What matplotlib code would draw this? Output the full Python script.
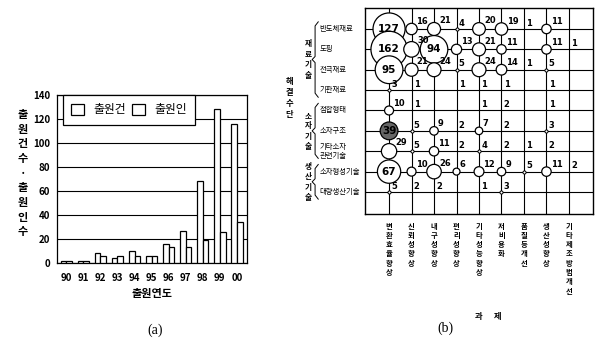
import numpy as np
import matplotlib.pyplot as plt

plt.rcParams['font.family'] = ['Noto Sans CJK KR', 'DejaVu Sans']

# (a) yearly counts
years = ['90', '91', '92', '93', '94', '95', '96', '97', '98', '99', '00']
applications = [2, 2, 8, 4, 10, 6, 16, 27, 68, 128, 116]
applicants = [2, 2, 6, 6, 6, 6, 13, 13, 19, 26, 34]

# (b) solution x problem matrix
row_names = ['반도체재료', '도핑', '전극재료', '기판재료', '접합형태', '소자구조',
             '기타소자\n관련기술', '소자형성기술', '대량생산기술']
col_names = ['변환효율향상', '신뢰성향상', '내구성향상', '편리성향상', '기타성능향상',
             '저비용화', '품질등개선', '생산성향상', '기타제조방법개선']
groups = ['재료기술', '소자기술', '생산기술']
group_rows = [(0, 3), (4, 6), (7, 8)]
counts = np.array([
    [127, 16, 21, 4, 20, 19, 1, 11, 0],
    [162, 30, 94, 13, 21, 11, 0, 11, 1],
    [95, 21, 24, 5, 24, 14, 1, 5, 0],
    [3, 1, 0, 1, 1, 1, 0, 1, 0],
    [10, 1, 0, 0, 1, 2, 0, 1, 0],
    [39, 5, 9, 2, 7, 2, 0, 3, 0],
    [29, 5, 11, 2, 4, 2, 1, 2, 0],
    [67, 10, 26, 6, 12, 9, 5, 11, 2],
    [5, 2, 2, 0, 1, 3, 0, 0, 0],
])

W, H = 595, 348
fig = plt.figure(figsize=(W / 100, H / 100), dpi=100)

# ---- (a) bar chart
ax = fig.add_axes([57 / W, 1 - 263 / H, 190 / W, 168 / H])
x = np.arange(len(years))
bw = 0.34
ax.bar(x - bw / 2, applications, bw, facecolor='white', edgecolor='black', lw=0.9,
       label='출원건', zorder=3)
ax.bar(x + bw / 2, applicants, bw, facecolor='white', edgecolor='black', lw=0.9,
       label='출원인', zorder=3)
ax.set_xlim(-0.55, 10.6)
ax.set_ylim(0, 140)
ax.set_yticks(range(0, 141, 20))
ax.set_xticks(x, years)
ax.yaxis.grid(True, color='black', lw=0.8)
ax.set_axisbelow(True)
ax.tick_params(length=0, labelsize=7)
ax.tick_params(axis='y', pad=5)
ax.tick_params(axis='x', pad=7)
for t in ax.get_xticklabels() + ax.get_yticklabels():
    t.set_fontweight('bold')
for s in ax.spines.values():
    s.set_linewidth(0.9)
ax.set_xlabel('출원연도', fontsize=8, fontweight='bold', labelpad=3)
ax.text(-0.179, 0.535, '\n'.join('출원건수·출원인수'), transform=ax.transAxes,
        ha='center', va='center', fontsize=8, fontweight='bold', linespacing=1.17)
leg = ax.legend(loc='upper left', bbox_to_anchor=(0.03, 1.0), ncol=2, fancybox=False,
                edgecolor='black', framealpha=1, fontsize=8.5, handlelength=1.1,
                handleheight=1.1, handletextpad=0.8, columnspacing=0.5,
                borderaxespad=0, borderpad=0.7)
leg.get_frame().set_linewidth(0.9)

# ---- (b) bubble matrix
bx = fig.add_axes([365 / W, 1 - 214 / H, 228 / W, 206 / H])
nr, nc = counts.shape
bx.set_xlim(-1.07, nc - 1 + 1.07)
bx.set_ylim(nr - 1 + 1.08, -1.03)
bx.set_xticks([])
bx.set_yticks([])
for s in bx.spines.values():
    s.set_linewidth(1.0)
for i in range(nc):
    bx.axvline(i, color='black', lw=0.8, zorder=1)
for j in range(nr):
    bx.axhline(j, color='black', lw=0.8, zorder=1)

rr, cc = np.nonzero(counts >= 6)
vals = counts[rr, cc]
fc = ['#666666' if v == 39 else 'white' for v in vals]
bx.scatter(cc, rr, s=4.2 * vals, facecolor=fc, edgecolor='black', lw=0.9, zorder=3)
rr2, cc2 = np.nonzero((counts >= 3) & (counts < 6))
bx.scatter(cc2, rr2, s=5, facecolor='white', edgecolor='black', lw=0.7, zorder=3)

for j in range(nr):
    for i in range(nc):
        v = counts[j, i]
        if v == 0:
            continue
        if v >= 39:
            bx.text(i, j, str(v), ha='center', va='center', fontsize=7.5,
                    fontweight='bold', family='DejaVu Sans', zorder=4)
        else:
            r_pt = np.sqrt(4.2 * v) / 2 if v >= 6 else 1.0
            bx.annotate(str(v), (i, j), xytext=(0.6 * r_pt + 1.0, 0.45 * r_pt + 0.5),
                        textcoords='offset points', ha='left', va='bottom',
                        fontsize=6, fontweight='bold', family='DejaVu Sans', zorder=4)

for j, name in enumerate(row_names):
    bx.text(-3.1, j, name, ha='left', va='center', fontsize=5.3, linespacing=1.2)

for g, (a, b) in zip(groups, group_rows):
    y0, y1 = a - 0.35, b + 0.35
    ym = (y0 + y1) / 2
    bx.plot([-3.15, -3.29, -3.29, -3.42, -3.29, -3.29, -3.15],
            [y0, y0 + 0.2, ym - 0.15, ym, ym + 0.15, y1 - 0.2, y1],
            color='black', lw=0.7, clip_on=False)
    bx.text(-3.58, ym, '\n'.join(g), ha='center', va='center', fontsize=5.5,
            fontweight='bold', linespacing=1.2)

bx.text(-4.45, 3.4, '\n'.join('해결수단'), ha='center', va='center', fontsize=6,
        fontweight='bold', linespacing=1.3)

for i, name in enumerate(col_names):
    bx.text(i, 9.5, '\n'.join(name), ha='center', va='top', fontsize=5.3,
            fontweight='bold', linespacing=1.38)
bx.text(4.4, 14.1, '과      제', ha='center', va='center', fontsize=6, fontweight='bold')

fig.text(155 / W, 1 - 330 / H, '(a)', family='Liberation Serif', fontsize=10,
         ha='center', va='center')
fig.text(445 / W, 1 - 328 / H, '(b)', family='Liberation Serif', fontsize=10,
         ha='center', va='center')

fig.savefig('out.png', dpi=100)
